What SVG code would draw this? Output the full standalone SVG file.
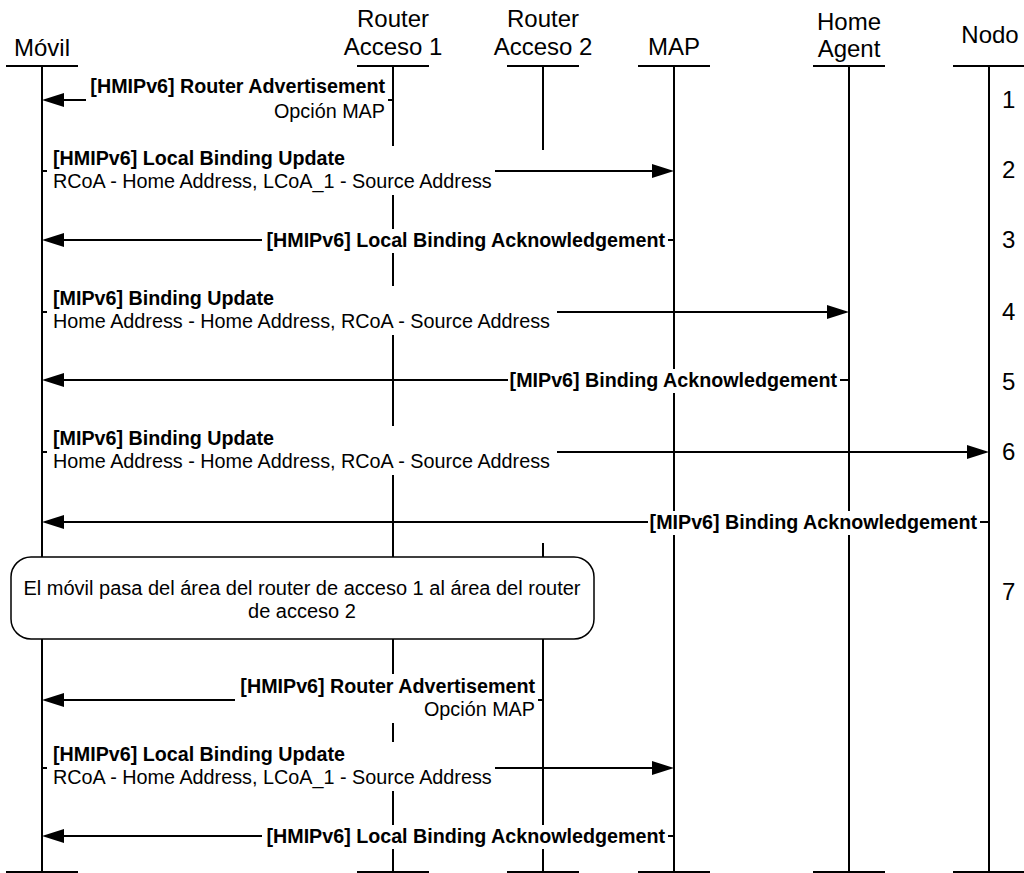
<svg xmlns="http://www.w3.org/2000/svg" width="1024" height="873" viewBox="0 0 1024 873">
<style>
text{font-family:"Liberation Sans",Arial,sans-serif;fill:#000}
.hd{font-size:24px;text-anchor:middle}
.num{font-size:24px}
.b{font-size:19.7px;font-weight:bold}
.r{font-size:19.8px}
.end{text-anchor:end}
.ll{stroke:#000;stroke-width:2;fill:none}
.msg{stroke:#000;stroke-width:1.8;fill:none}
.ah{fill:#000;stroke:none}
.lb{fill:#fff;stroke:none}
.note{fill:#fff;stroke:#000;stroke-width:1.5}
.nt{font-size:20px;text-anchor:middle}
</style>
<rect width="1024" height="873" fill="#fff"/>

<g id="movil">
  <text class="hd" x="42" y="56">Móvil</text>
  <path class="ll" d="M6 66H78M42 66V872M6 872H78"/>
</g>
<g id="router1">
  <text class="hd" x="393" y="27">Router</text>
  <text class="hd" x="393" y="55">Acceso 1</text>
  <path class="ll" d="M357 66H429M393 66V872M357 872H429"/>
</g>
<g id="router2">
  <text class="hd" x="543" y="27">Router</text>
  <text class="hd" x="543" y="55">Acceso 2</text>
  <path class="ll" d="M507 66H579M543 66V150M543 543V872M507 872H579"/>
</g>
<g id="map">
  <text class="hd" x="674" y="55">MAP</text>
  <path class="ll" d="M638 66H710M674 66V872M638 872H710"/>
</g>
<g id="homeagent">
  <text class="hd" x="849" y="30">Home</text>
  <text class="hd" x="849" y="57">Agent</text>
  <path class="ll" d="M813 66H885M849 66V872M813 872H885"/>
</g>
<g id="nodo">
  <text class="hd" x="990" y="43">Nodo</text>
  <path class="ll" d="M953 66H1025M989 66V872M953 872H1025"/>
</g>

<g id="connectors">
  <path class="msg" d="M393 100H60"/><polygon class="ah" points="42,100 64,93 64,107"/>
  <path class="msg" d="M42 171H656"/><polygon class="ah" points="674,171 652,164 652,178"/>
  <path class="msg" d="M674 240H60"/><polygon class="ah" points="42,240 64,233 64,247"/>
  <path class="msg" d="M42 312H831"/><polygon class="ah" points="849,312 827,305 827,319"/>
  <path class="msg" d="M849 380H60"/><polygon class="ah" points="42,380 64,373 64,387"/>
  <path class="msg" d="M42 452H971"/><polygon class="ah" points="989,452 967,445 967,459"/>
  <path class="msg" d="M989 522H60"/><polygon class="ah" points="42,522 64,515 64,529"/>
  <path class="msg" d="M543 700H60"/><polygon class="ah" points="42,700 64,693 64,707"/>
  <path class="msg" d="M42 768H656"/><polygon class="ah" points="674,768 652,761 652,775"/>
  <path class="msg" d="M674 836H60"/><polygon class="ah" points="42,836 64,829 64,843"/>
</g>

<g id="labels">
  <rect class="lb" x="86" y="74" width="302" height="51"/>
  <text class="b end" x="385" y="93">[HMIPv6] Router Advertisement</text>
  <text class="r end" x="385" y="118">Opción MAP</text>

  <rect class="lb" x="47" y="146" width="448" height="49"/>
  <text class="b" x="53" y="165">[HMIPv6] Local Binding Update</text>
  <text class="r" x="53" y="188">RCoA - Home Address, LCoA_1 - Source Address</text>

  <rect class="lb" x="262" y="229" width="406" height="24"/>
  <text class="b end" x="665" y="247">[HMIPv6] Local Binding Acknowledgement</text>

  <rect class="lb" x="47" y="286" width="510" height="49"/>
  <text class="b" x="53" y="305">[MIPv6] Binding Update</text>
  <text class="r" x="53" y="328">Home Address - Home Address, RCoA - Source Address</text>

  <rect class="lb" x="508" y="369" width="332" height="24"/>
  <text class="b end" x="837" y="387">[MIPv6] Binding Acknowledgement</text>

  <rect class="lb" x="47" y="426" width="510" height="49"/>
  <text class="b" x="53" y="445">[MIPv6] Binding Update</text>
  <text class="r" x="53" y="468">Home Address - Home Address, RCoA - Source Address</text>

  <rect class="lb" x="648" y="511" width="332" height="24"/>
  <text class="b end" x="977" y="529">[MIPv6] Binding Acknowledgement</text>

  <rect class="lb" x="235" y="674" width="303" height="49"/>
  <text class="b end" x="535" y="693">[HMIPv6] Router Advertisement</text>
  <text class="r end" x="535" y="716">Opción MAP</text>

  <rect class="lb" x="47" y="742" width="448" height="49"/>
  <text class="b" x="53" y="761">[HMIPv6] Local Binding Update</text>
  <text class="r" x="53" y="784">RCoA - Home Address, LCoA_1 - Source Address</text>

  <rect class="lb" x="262" y="825" width="406" height="24"/>
  <text class="b end" x="665" y="843">[HMIPv6] Local Binding Acknowledgement</text>
</g>

<g id="nota">
  <rect class="note" x="11" y="557" width="583" height="82" rx="20" ry="20"/>
  <text class="nt" x="302" y="595">El móvil pasa del área del router de acceso 1 al área del router</text>
  <text class="nt" x="302" y="618">de acceso 2</text>
</g>

<g id="pasos">
  <text class="num" x="1002" y="108">1</text>
  <text class="num" x="1002" y="178">2</text>
  <text class="num" x="1002" y="248">3</text>
  <text class="num" x="1002" y="320">4</text>
  <text class="num" x="1002" y="390">5</text>
  <text class="num" x="1002" y="460">6</text>
  <text class="num" x="1002" y="600">7</text>
</g>
</svg>
